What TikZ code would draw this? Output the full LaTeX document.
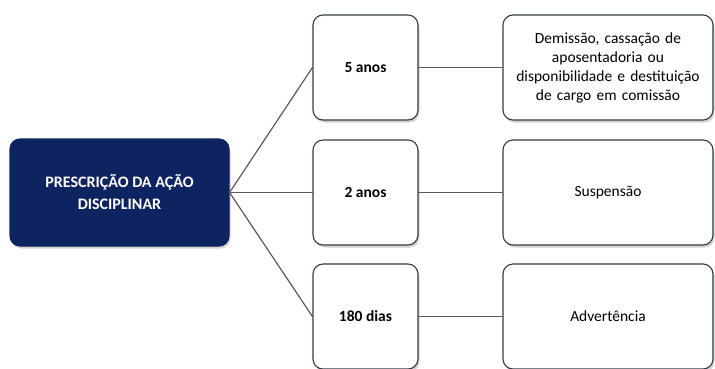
\documentclass[tikz,border=0pt]{standalone}
\usepackage{fontspec}
\setmainfont{Carlito}
\usetikzlibrary{shadows}
\definecolor{Nfill}{RGB}{14,36,96}
\definecolor{Bline}{RGB}{52,60,72}
\definecolor{Cline}{RGB}{90,90,90}

\begin{document}
\begin{tikzpicture}[x=1pt,y=-1pt,line cap=round,line join=round]
\path[use as bounding box] (0,0) rectangle (715,368);
\tikzset{
  boxbase/.style={rectangle,rounded corners=10pt,line width=1.1pt,draw=Bline,fill=white,
    drop shadow={opacity=0.35,shadow xshift=1.5pt,shadow yshift=-2.5pt},
    align=center,inner sep=3pt,font=\fontsize{15.5}{19}\selectfont},
  mainbox/.style={boxbase,fill=Nfill,draw=Nfill,text=white,minimum width=219pt,minimum height=107pt,
    font=\bfseries\fontsize{16}{22}\selectfont},
  termbox/.style={boxbase,minimum width=105pt,minimum height=105pt,font=\bfseries\fontsize{15.5}{19}\selectfont},
  penbox/.style={boxbase,minimum width=210pt,minimum height=105pt,text width=204pt},
  link/.style={draw=Cline,line width=1.2pt}
}
\begin{scope}
\clip (0,0) rectangle (715,368);
\node[mainbox] (acao) at (119.5,192.5) {PRESCRIÇÃO DA AÇÃO\\DISCIPLINAR};
\node[termbox] (cinco) at (365.5,67.5) {5 anos};
\node[termbox] (dois) at (365.5,192.5) {2 anos};
\node[termbox] (dias) at (365.5,316.5) {180 dias};
\node[penbox] (demissao) at (608,67.5) {Demissão, cassação de\\aposentadoria ou\\disponibilidade e destituição\\de cargo em comissão};
\node[penbox] (suspensao) at (608,192.5) {Suspensão};
\node[penbox] (advertencia) at (608,316.5) {Advertência};
\end{scope}
\draw[link] (acao.east) -- (cinco.west);
\draw[link] (acao.east) -- (dois.west);
\draw[link] (acao.east) -- (dias.west);
\draw[link] (cinco.east) -- (demissao.west);
\draw[link] (dois.east) -- (suspensao.west);
\draw[link] (dias.east) -- (advertencia.west);
\end{tikzpicture}
\end{document}
